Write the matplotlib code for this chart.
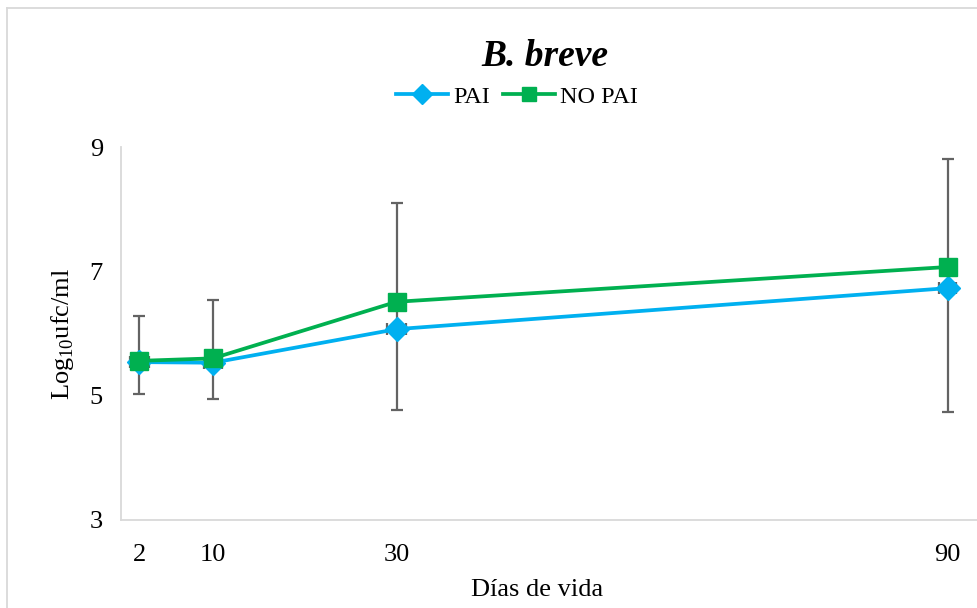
import matplotlib.pyplot as plt
from matplotlib.lines import Line2D

# data
days = [2, 10, 30, 90]
pai = [5.54, 5.53, 6.07, 6.73]
no_pai = [5.56, 5.60, 6.51, 7.07]
err_low = [5.03, 4.95, 4.77, 4.74]
err_high = [6.28, 6.54, 8.10, 8.81]
day_err = [1.0, 1.0, 1.0, 0.9]

y_ticks = [3, 5, 7, 9]
x_ticks = [2, 10, 30, 90]

blue = "#00B0F0"
green = "#00B050"
grey = "#636363"
axis_col = "#D9D9D9"

plt.rcParams['font.family'] = ['Liberation Serif', 'DejaVu Serif']
plt.rcParams['mathtext.fontset'] = 'custom'
plt.rcParams['mathtext.rm'] = 'Liberation Serif'

W, H = 978, 608
fig = plt.figure(figsize=(W / 100, H / 100), dpi=100)
ax = fig.add_axes([121 / W, 1 - 520 / H, 1 - 121 / W, (520 - 147) / H])

# error bars (behind the lines)
ax.errorbar(days, pai,
            yerr=[[p - l for p, l in zip(pai, err_low)],
                  [h - p for p, h in zip(pai, err_high)]],
            xerr=day_err, fmt='none', ecolor=grey, elinewidth=1.6,
            capsize=4.5, capthick=1.6, zorder=2)

ax.plot(days, pai, color=blue, lw=2.7, marker='D', markersize=12,
        zorder=3, label='PAI')
ax.plot(days, no_pai, color=green, lw=2.7, marker='s', markersize=13.5,
        zorder=4, label='NO PAI')

ax.set_xlim(0, 93.3)
ax.set_ylim(3, 9)
ax.set_xticks(x_ticks)
ax.set_yticks(y_ticks)
ax.tick_params(length=0, labelsize=19, colors='black')
ax.tick_params(axis='x', pad=17)
ax.tick_params(axis='y', pad=13)

for s in ['top', 'right']:
    ax.spines[s].set_visible(False)
for s in ['left', 'bottom']:
    ax.spines[s].set_color(axis_col)
    ax.spines[s].set_linewidth(1.3)

ax.set_xlabel('Días de vida', fontsize=19)
ax.xaxis.set_label_coords((537 - 121) / (W - 121), -0.157)
ax.set_ylabel(r'Log$_\mathregular{10}$ufc/ml', fontsize=19)
ax.yaxis.set_label_coords(-0.052, 0.5)

fig.text(545 / W, 1 - 56 / H, 'B. breve', fontsize=27, fontweight='bold',
         fontstyle='italic', ha='center', va='center')

handles = [Line2D([], [], color=blue, lw=2.7, marker='D', markersize=10),
           Line2D([], [], color=green, lw=2.7, marker='s', markersize=10.5)]
fig.legend(handles, ['PAI', 'NO PAI'], loc='center',
           bbox_to_anchor=(517 / W, 1 - 97 / H), ncol=2, frameon=False,
           fontsize=17.5, handlelength=2.15, handletextpad=0.2,
           columnspacing=0.55, borderpad=0)

# outer chart frame (left and top edges visible)
fig.add_artist(Line2D([7.5 / W, 7.5 / W], [0, 1 - 7.5 / H],
                      transform=fig.transFigure, color=axis_col, lw=1.3))
fig.add_artist(Line2D([7.5 / W, 1], [1 - 7.5 / H, 1 - 7.5 / H],
                      transform=fig.transFigure, color=axis_col, lw=1.3))

fig.savefig('out.png', dpi=100)
